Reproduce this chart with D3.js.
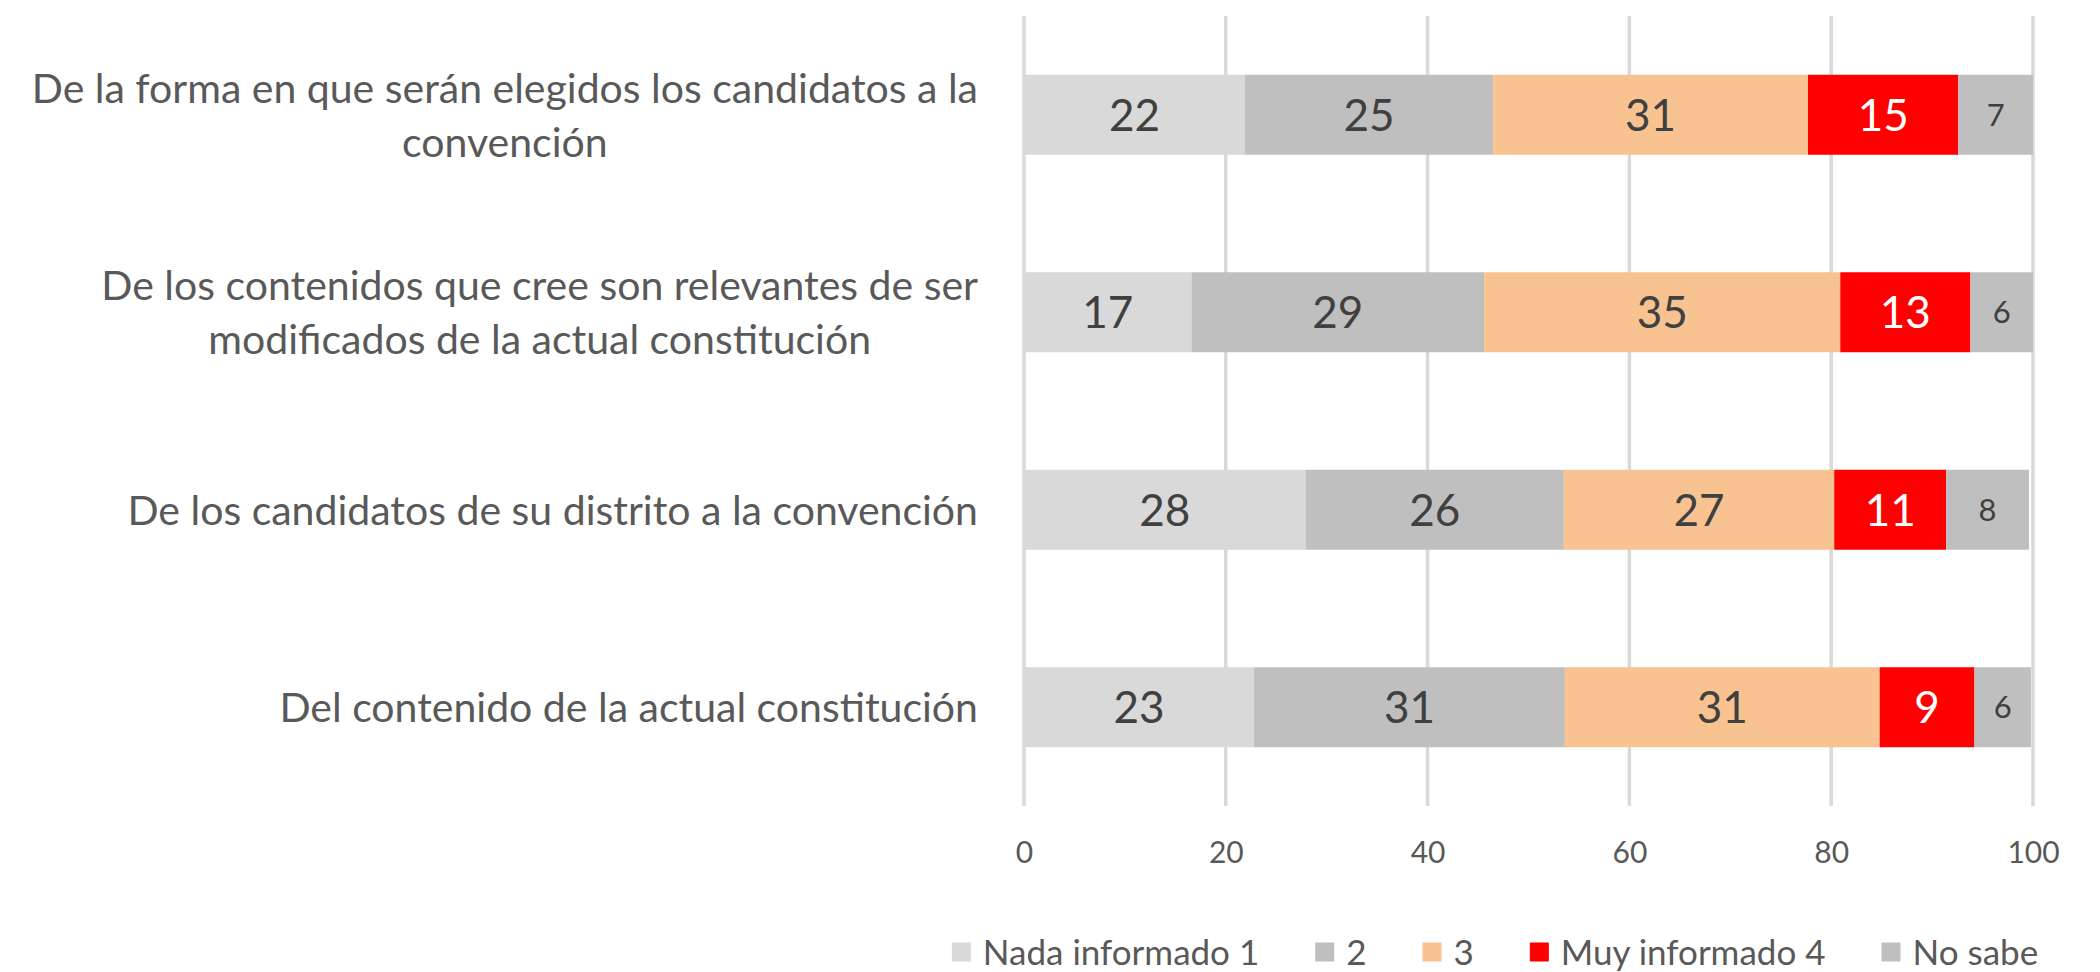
<!DOCTYPE html>
<html>
<head>
<meta charset="utf-8">
<script src="https://cdn.jsdelivr.net/npm/d3@7"></script>
<style>
  body { margin: 0; background: #fff; }
  svg { display: block; font-family: Lato, "Open Sans", sans-serif; }
</style>
</head>
<body>
<div id="chart"></div>
<script>
// categories, top to bottom (each entry = lines of the label)
const categories = [
    ["De la forma en que serán elegidos los candidatos a la", "convención"],
    ["De los contenidos que cree son relevantes de ser", "modificados de la actual constitución"],
    ["De los candidatos de su distrito a la convención"],
    ["Del contenido de la actual constitución"]
];

const seriesNames = ["Nada informado 1", "2", "3", "Muy informado 4", "No sabe"];
const seriesColors = ["#D9D9D9", "#BFBFBF", "#F9C291", "#FF0000", "#BFBFBF"];
const labelColors = ["#404040", "#404040", "#404040", "#FFFFFF", "#404040"];

// one array per series, same order as categories
const nada1 = [21.9, 16.6, 27.9, 22.8];
const dos = [24.6, 29.0, 25.6, 30.8];
const tres = [31.2, 35.3, 26.8, 31.2];
const muy4 = [14.9, 12.9, 11.1, 9.4];
const noSabe = [7.4, 6.2, 8.2, 5.6];

const tickValues = [0, 20, 40, 60, 80, 100];

const series = [nada1, dos, tres, muy4, noSabe];

const W = 2100, H = 972;
const margin = { top: 16, right: 67, bottom: 166, left: 1024 };
const innerW = W - margin.left - margin.right;
const innerH = H - margin.top - margin.bottom;

const svg = d3.select("#chart").append("svg")
    .attr("width", W)
    .attr("height", H);

const g = svg.append("g")
    .attr("transform", `translate(${margin.left},${margin.top})`);

const x = d3.scaleLinear().domain([0, 100]).range([0, innerW]);
const y = d3.scaleBand()
    .domain(d3.range(categories.length))
    .range([0, innerH])
    .paddingInner(0.595)
    .paddingOuter(0.2975);

// gridlines
g.append("g")
    .selectAll("line")
    .data(tickValues)
    .enter()
    .append("line")
    .attr("x1", d => x(d))
    .attr("x2", d => x(d))
    .attr("y1", 0)
    .attr("y2", innerH)
    .style("stroke", "#D9D9D9")
    .style("stroke-width", 3.5);

// x axis labels (no domain line)
const xAxis = g.append("g")
    .attr("transform", `translate(0, ${innerH})`)
    .call(d3.axisBottom(x).tickValues(tickValues).tickSize(0).tickPadding(36));
xAxis.select(".domain").remove();
xAxis.selectAll("text")
    .style("font-family", "Lato, sans-serif")
    .style("font-size", "30px")
    .style("fill", "#595959");

// stack data
const rows = categories.map((c, i) => {
    let acc = 0;
    return series.map((s, k) => {
        const seg = { row: i, k: k, v: s[i], x0: acc, x1: acc + s[i] };
        acc += s[i];
        return seg;
    });
});
const segs = rows.flat();

g.append("g")
    .selectAll("rect")
    .data(segs)
    .enter()
    .append("rect")
    .attr("x", d => x(d.x0))
    .attr("y", d => y(d.row))
    .attr("width", d => x(d.x1) - x(d.x0))
    .attr("height", y.bandwidth())
    .style("fill", d => seriesColors[d.k]);

// data labels
g.append("g")
    .selectAll("text")
    .data(segs)
    .enter()
    .append("text")
    .attr("x", d => x((d.x0 + d.x1) / 2))
    .attr("y", d => y(d.row) + y.bandwidth() / 2)
    .attr("dy", "0.36em")
    .attr("text-anchor", "middle")
    .style("font-size", d => d.k === 4 ? "31px" : "44px")
    .style("fill", d => labelColors[d.k])
    .text(d => Math.round(d.v));

// category labels: lines centred on each other, block right aligned
const labelRight = 978;
const lineH = 54;
categories.forEach((lines, i) => {
    const cy = margin.top + y(i) + y.bandwidth() / 2;
    const grp = svg.append("g");
    const texts = lines.map((t, j) => grp.append("text")
        .attr("y", cy + (j - (lines.length - 1) / 2) * lineH)
        .attr("dy", "0.36em")
        .attr("text-anchor", "middle")
        .style("font-size", "41px")
        .style("fill", "#595959")
        .text(t));
    const maxW = d3.max(texts, t => t.node().getComputedTextLength());
    texts.forEach(t => t.attr("x", labelRight - maxW / 2));
});

// legend
const legend = svg.append("g");
const sw = 19, gapText = 12, gapItem = 56;
let lx = 0;
seriesNames.forEach((name, k) => {
    const item = legend.append("g").attr("transform", `translate(${lx},0)`);
    item.append("rect")
        .attr("x", 0)
        .attr("y", -sw / 2)
        .attr("width", sw)
        .attr("height", sw)
        .style("fill", seriesColors[k]);
    const t = item.append("text")
        .attr("x", sw + gapText)
        .attr("dy", "0.36em")
        .style("font-size", "35px")
        .style("fill", "#595959")
        .text(name);
    lx += sw + gapText + t.node().getComputedTextLength() + gapItem;
});
const legendW = lx - gapItem;
legend.attr("transform", `translate(${1495 - legendW / 2}, 952)`);
</script>
</body>
</html>
